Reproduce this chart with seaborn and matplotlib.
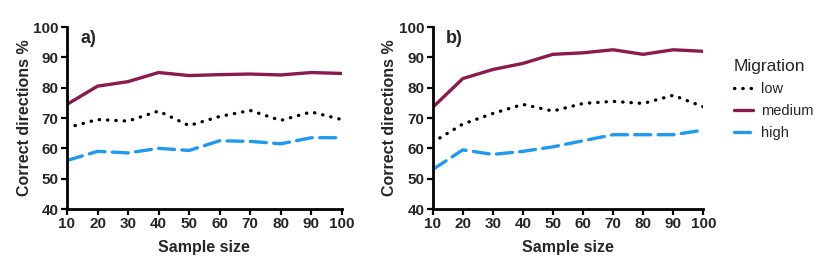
import pandas as pd
import matplotlib
matplotlib.use("Agg")
import matplotlib.pyplot as plt
import seaborn as sns

# Values
sample_size = [10, 20, 30, 40, 50, 60, 70, 80, 90, 100]

a_low = [66.8, 69.5, 69.0, 72.3, 67.5, 70.5, 72.5, 69.2, 72.0, 69.5]
a_medium = [74.5, 80.5, 82.0, 85.0, 84.0, 84.3, 84.5, 84.2, 85.0, 84.7]
a_high = [56.0, 59.0, 58.5, 60.0, 59.3, 62.5, 62.3, 61.5, 63.5, 63.5]

b_low = [62.0, 68.0, 71.5, 74.5, 72.3, 74.8, 75.5, 74.8, 77.5, 73.7]
b_medium = [73.5, 83.0, 86.0, 88.0, 91.0, 91.5, 92.5, 91.0, 92.5, 92.0]
b_high = [53.0, 59.5, 58.0, 59.0, 60.5, 62.5, 64.5, 64.5, 64.5, 66.0]

levels = ["low", "medium", "high"]
colors = {"low": "black", "medium": "#8b1a4d", "high": "#1e9af0"}
dashes = {"low": (0.1, 2.4), "medium": "", "high": (4.8, 2.2)}


def long_form(low, medium, high):
    rows = []
    for name, vals in zip(levels, [low, medium, high]):
        for x, y in zip(sample_size, vals):
            rows.append({"Sample size": x, "value": y, "Migration": name})
    return pd.DataFrame(rows)


sns.set_style("ticks")
plt.rcParams['font.family'] = ['Liberation Sans', 'DejaVu Sans']

fig = plt.figure(figsize=(8.3, 2.72), dpi=100)
ax_a = fig.add_axes([0.0807, 0.2316, 0.331, 0.669])
ax_b = fig.add_axes([0.5213, 0.2316, 0.326, 0.669])

for ax, data, tag in [(ax_a, long_form(a_low, a_medium, a_high), "a)"),
                      (ax_b, long_form(b_low, b_medium, b_high), "b)")]:
    sns.lineplot(data=data, x="Sample size", y="value", hue="Migration",
                 style="Migration", hue_order=levels, style_order=levels,
                 palette=colors, dashes=dashes, linewidth=2.4, ax=ax,
                 legend=(ax is ax_b))
    for line in ax.get_lines():
        line.set_dash_capstyle("round")
    ax.set_xlim(10, 100)
    ax.set_ylim(40, 100)
    ax.set_xticks(sample_size)
    ax.set_yticks(range(40, 101, 10))
    ax.set_xlabel("Sample size", fontsize=11.5, fontweight="bold", labelpad=6)
    ax.set_ylabel("Correct directions %", fontsize=11.5, fontweight="bold",
                  labelpad=1)
    for lab in ax.get_xticklabels() + ax.get_yticklabels():
        lab.set_fontweight("bold")
    ax.tick_params(labelsize=11, width=1.6, length=4, color="black", pad=2)
    sns.despine(ax=ax)
    for side in ["left", "bottom"]:
        ax.spines[side].set_linewidth(2)
        ax.spines[side].set_color("black")
    ax.text(0.05, 0.985, tag, transform=ax.transAxes, fontsize=13,
            fontweight="bold", va="top")

handles, labels = ax_b.get_legend_handles_labels()
ax_b.get_legend().remove()
leg = fig.legend(handles, labels, title="Migration", loc="upper left",
                 bbox_to_anchor=(0.868, 0.83), frameon=False, fontsize=10.5,
                 title_fontsize=12.5, handlelength=1.3, handletextpad=0.6,
                 labelspacing=0.55, alignment="left")

fig.savefig("out.png", dpi=100)
